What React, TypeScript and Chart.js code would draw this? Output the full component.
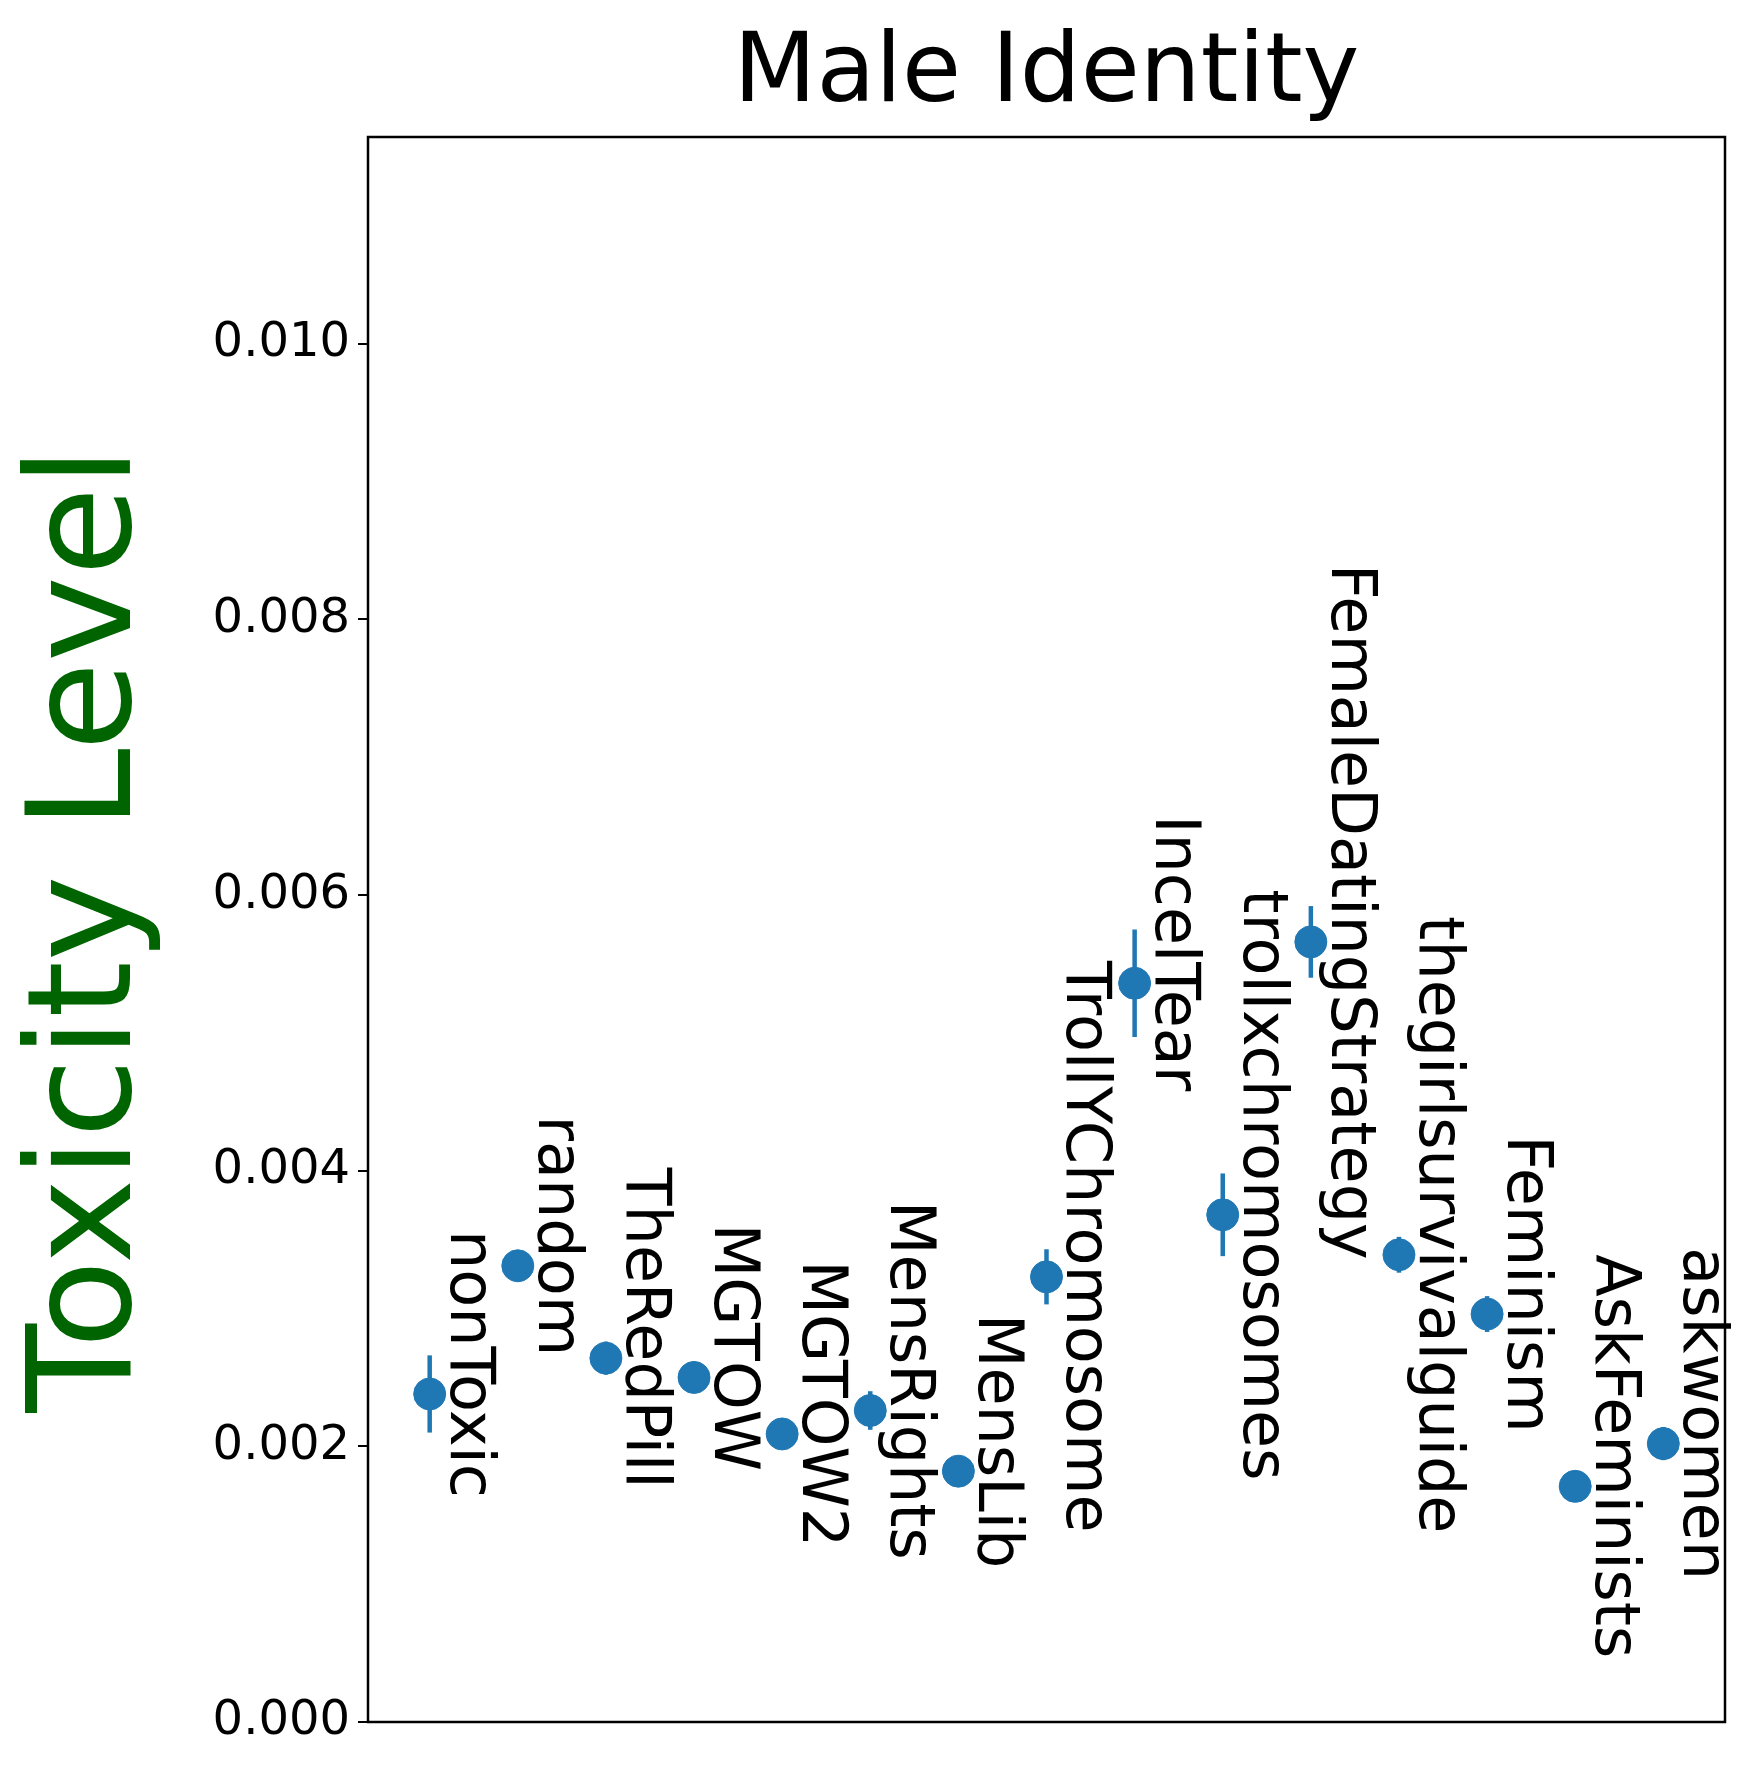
import { Chart, registerables } from "chart.js";
import { useEffect, useRef } from "react";

Chart.register(...registerables);

const subreddits = [
  "nonToxic", "random", "TheRedPill", "MGTOW", "MGTOW2", "MensRights", "MensLib",
  "TrollYChromosome", "IncelTear", "trollxchromosomes", "FemaleDatingStrategy",
  "thegirlsurvivalguide", "Feminism", "AskFeminists", "askwomen",
];
const toxicity = [
  0.00238, 0.00331, 0.00264, 0.0025, 0.00209, 0.00226, 0.00182, 0.00323,
  0.00536, 0.00368, 0.00566, 0.00339, 0.00296, 0.00171, 0.00202,
];
const errors = [
  0.00028, 0.00004, 0.00012, 0.00007, 0.00005, 0.00014, 0.00004, 0.0002,
  0.00039, 0.0003, 0.00026, 0.00013, 0.00013, 0.00008, 0.00012,
];
const yTicks = [0, 0.002, 0.004, 0.006, 0.008, 0.01];

const BLUE = "#1f77b4";
const FONT = "'DejaVu Sans', sans-serif";

const extras = {
  id: "extras",
  beforeDatasetsDraw(chart: any) {
    const { ctx, scales } = chart;
    const x = scales.x, y = scales.y;
    ctx.save();
    ctx.strokeStyle = BLUE;
    ctx.lineWidth = 4.5;
    toxicity.forEach((v, i) => {
      const px = x.getPixelForValue(i);
      ctx.beginPath();
      ctx.moveTo(px, y.getPixelForValue(v - errors[i]));
      ctx.lineTo(px, y.getPixelForValue(v + errors[i]));
      ctx.stroke();
    });
    ctx.restore();
  },
  afterDraw(chart: any) {
    const { ctx, chartArea, scales } = chart;
    const x = scales.x, y = scales.y;
    ctx.save();
    ctx.strokeStyle = "#000";
    ctx.lineWidth = 2.5;
    ctx.strokeRect(chartArea.left, chartArea.top, chartArea.right - chartArea.left, chartArea.bottom - chartArea.top);
    ctx.fillStyle = "#000";
    ctx.font = `62px ${FONT}`;
    ctx.textAlign = "center";
    ctx.textBaseline = "middle";
    subreddits.forEach((name, i) => {
      ctx.save();
      ctx.translate(x.getPixelForValue(i) + 37, y.getPixelForValue(toxicity[i]) - 30);
      ctx.rotate(Math.PI / 2);
      ctx.fillText(name, 0, 0);
      ctx.restore();
    });
    ctx.font = `96px ${FONT}`;
    ctx.fillText("Male Identity", (chartArea.left + chartArea.right) / 2, 76);
    ctx.fillStyle = "#006400";
    ctx.font = `145px ${FONT}`;
    ctx.translate(92, (chartArea.top + chartArea.bottom) / 2);
    ctx.rotate(-Math.PI / 2);
    ctx.fillText("Toxicity Level", 0, 0);
    ctx.restore();
  },
};

const App = () => {
  const ref = useRef<HTMLCanvasElement | null>(null);

  useEffect(() => {
    document.body.style.margin = "0";
    if (!ref.current) return;
    const chart = new Chart(ref.current, {
      type: "scatter",
      data: {
        datasets: [
          {
            data: toxicity.map((v, i) => ({ x: i, y: v })),
            backgroundColor: BLUE,
            borderColor: BLUE,
            pointRadius: 16,
            pointHoverRadius: 16,
          },
        ],
      },
      options: {
        animation: false,
        responsive: false,
        devicePixelRatio: 1,
        layout: { padding: { top: 137, right: 35, bottom: 64, left: 0 } },
        plugins: { legend: { display: false }, tooltip: { enabled: false } },
        scales: {
          x: { type: "linear", min: -0.7, max: 14.7, display: false },
          y: {
            min: 0,
            max: 0.0115,
            afterFit: (s: any) => { s.width = 368; },
            afterBuildTicks: (s: any) => { s.ticks = yTicks.map((v) => ({ value: v })); },
            grid: { drawOnChartArea: false, tickLength: 10, color: "#000", lineWidth: 2 },
            border: { display: false },
            ticks: {
              color: "#000",
              padding: 8,
              font: { family: FONT, size: 48 },
              callback: (v: any) => Number(v).toFixed(3),
            },
          },
        },
      },
      plugins: [extras],
    });
    return () => chart.destroy();
  }, []);

  return <canvas ref={ref} width={1760} height={1786}></canvas>;
};

export default App;
